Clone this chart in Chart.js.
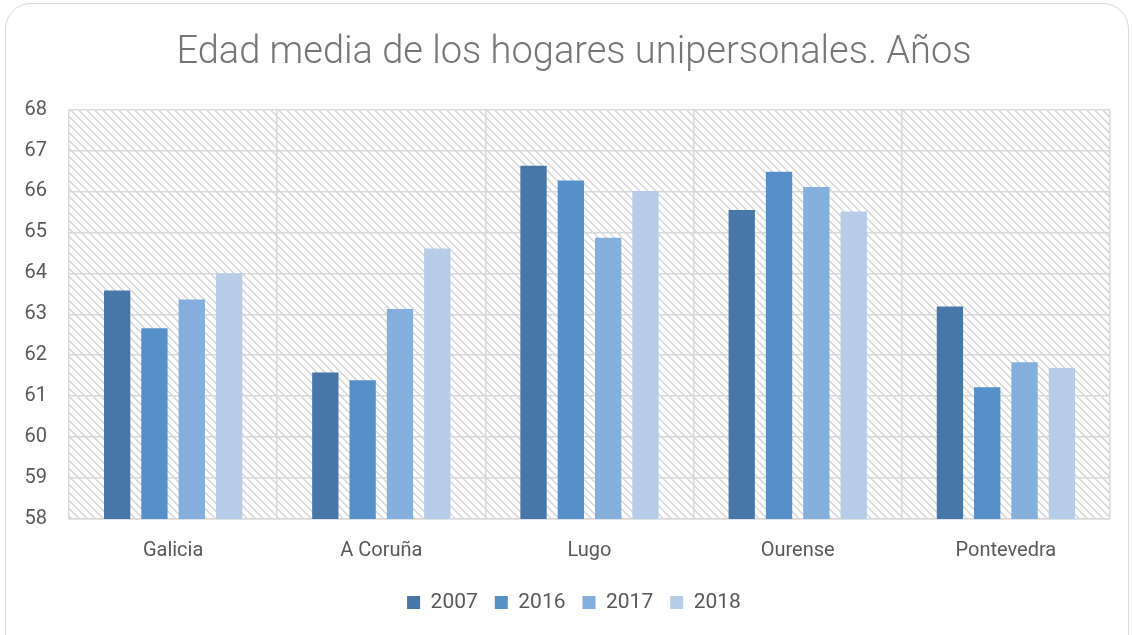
<!DOCTYPE html>
<html>
<head>
<meta charset="utf-8">
<script src="https://cdn.jsdelivr.net/npm/chart.js@4.4.1/dist/chart.umd.min.js"></script>
<style>
  html, body { margin: 0; padding: 0; background: #ffffff; }
  #wrap { position: relative; width: 1132px; height: 635px; overflow: hidden; }
  #frame { position: absolute; left: 5px; top: 3px; width: 1124px; height: 660px;
           border: 1.5px solid #d9d9d9; border-radius: 26px; box-sizing: border-box; }
  canvas { position: absolute; left: 0; top: 0; }
</style>
</head>
<body>
<div id="wrap">
  <div id="frame"></div>
  <canvas id="c" width="1132" height="635"></canvas>
</div>
<script>
const categories = ['Galicia', 'A Coruña', 'Lugo', 'Ourense', 'Pontevedra'];
const seriesNames = ['2007', '2016', '2017', '2018'];
const values2007 = [63.58, 61.58, 66.63, 65.55, 63.19];
const values2016 = [62.66, 61.39, 66.27, 66.48, 61.22];
const values2017 = [63.36, 63.13, 64.87, 66.11, 61.83];
const values2018 = [64.00, 64.61, 66.01, 65.51, 61.69];
const seriesColors = ['#4677A8', '#5591C8', '#84AEDB', '#B6CCE7'];
const yMin = 58, yMax = 68, yStep = 1;
const titleText = 'Edad media de los hogares unipersonales. Años';

function makePattern() {
  const p = document.createElement('canvas');
  p.width = 8; p.height = 8;
  const pc = p.getContext('2d');
  const img = pc.createImageData(8, 8);
  for (let y = 0; y < 8; y++) {
    for (let x = 0; x < 8; x++) {
      const i = (y * 8 + x) * 4;
      const d = ((x - y) % 8 + 8) % 8;
      let v = 255;
      if (d === 0) v = ((x + y) % 2 === 0) ? 216 : 232;
      else if (d === 1) v = ((x + y) % 2 === 0) ? 230 : 218;
      else if (d === 2) v = 246;
      img.data[i] = v; img.data[i + 1] = v; img.data[i + 2] = v; img.data[i + 3] = 255;
    }
  }
  pc.putImageData(img, 0, 0);
  return p;
}

const hatchPlugin = {
  id: 'hatch',
  beforeDraw(chart) {
    const { ctx, chartArea: a } = chart;
    ctx.save();
    ctx.fillStyle = ctx.createPattern(makePattern(), 'repeat');
    ctx.fillRect(a.left, a.top, a.right - a.left, a.bottom - a.top);
    ctx.restore();
  }
};

// centre the title and legend on the framed card, not on the canvas
const shiftPlugin = {
  id: 'shiftBlocks',
  afterLayout(chart) {
    if (chart.titleBlock) chart.titleBlock.left = 38;
    if (chart.legend) chart.legend.left = 38;
  }
};

const allValues = [values2007, values2016, values2017, values2018];
const datasets = seriesNames.map((n, i) => ({
  label: n,
  data: allValues[i],
  backgroundColor: seriesColors[i],
  borderWidth: 0,
  categoryPercentage: 0.717,
  barPercentage: 0.705
}));

const FONT = 'Roboto, "Open Sans", sans-serif';

new Chart(document.getElementById('c'), {
  type: 'bar',
  data: { labels: categories, datasets },
  plugins: [hatchPlugin, shiftPlugin],
  options: {
    responsive: false,
    animation: false,
    layout: { padding: { left: 0, right: 22, top: 0, bottom: 12 } },
    plugins: {
      tooltip: { enabled: false },
      title: {
        display: true,
        text: titleText,
        color: '#767676',
        font: { family: FONT, size: 38, weight: '300', lineHeight: 1.2 },
        padding: { top: 31, bottom: 33 }
      },
      legend: {
        position: 'bottom',
        labels: {
          color: '#595959',
          font: { family: FONT, size: 21 },
          boxWidth: 13, boxHeight: 13, padding: 17
        }
      }
    },
    scales: {
      x: {
        grid: { color: '#d9d9d9', lineWidth: 1.5, drawTicks: false, offset: true },
        border: { display: true, color: '#d9d9d9', width: 1.5 },
        ticks: { color: '#595959', font: { family: FONT, size: 20 }, padding: 20 },
        afterFit(s) { s.height = 56; }
      },
      y: {
        min: yMin, max: yMax,
        grid: { color: '#d9d9d9', lineWidth: 1.5, drawTicks: false },
        border: { display: false },
        ticks: { stepSize: yStep, color: '#595959', font: { family: FONT, size: 20 }, padding: 22 },
        afterFit(s) { s.width = 69; }
      }
    }
  }
});
</script>
</body>
</html>
